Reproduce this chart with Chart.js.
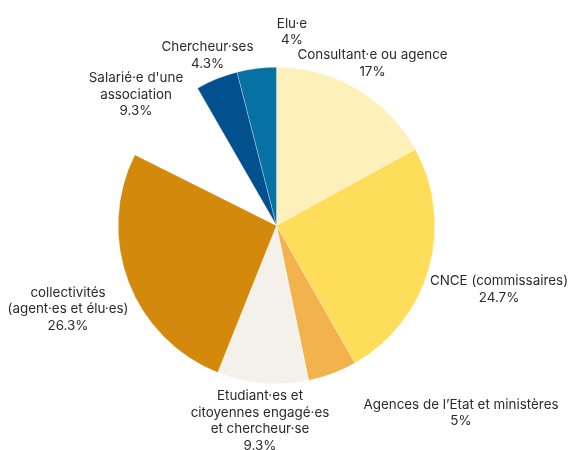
<!DOCTYPE html>
<html>
<head>
<meta charset="utf-8">
<script src="https://cdn.jsdelivr.net/npm/chart.js@4"></script>
<style>
html,body{margin:0;padding:0;background:#fff;}
#wrap{width:568px;height:450px;position:relative;}
</style>
</head>
<body>
<div id="wrap"><canvas id="c" width="568" height="450"></canvas></div>
<script>
const categories = [
  ["Consultant·e ou agence"],
  ["CNCE (commissaires)"],
  ["Agences de l\u2019Etat et ministères"],
  ["Etudiant·es et", "citoyennes engagé·es", "et chercheur·se"],
  ["collectivités", "(agent·es et élu·es)"],
  ["Salarié·e d'une", "association"],
  ["Chercheur·ses"],
  ["Elu·e"]
];
const values = [17, 24.7, 5, 9.3, 26.3, 9.3, 4.3, 4];
const percentLabels = ["17%", "24.7%", "5%", "9.3%", "26.3%", "9.3%", "4.3%", "4%"];

// styling (kept separate from data)
const colors = ["#FDF0BA", "#FEDD5B", "#F2B24C", "#F4F1EB", "#D3890C", "#FFFFFF", "#03508F", "#0771A3"];
// label block centre offsets from the pie centre (px)
const labelOffsets = [[96,-162],[222.5,64],[184.5,187.5],[-16.5,195.5],[-208.5,83.5],[-140.5,-131],[-69,-170],[15.5,-193.5]];

const labelPlugin = {
  id: 'outLabels',
  afterDatasetsDraw(chart) {
    const ctx = chart.ctx;
    const meta = chart.getDatasetMeta(0);
    const arc0 = meta.data[0];
    const cx = arc0.x, cy = arc0.y;
    const lh = 16.5;
    ctx.save();
    ctx.font = '13.4px Inter, "Noto Sans", sans-serif';
    ctx.fillStyle = '#2b2b2b';
    ctx.textAlign = 'center';
    ctx.textBaseline = 'middle';
    meta.data.forEach((arc, i) => {
      const lines = categories[i].concat([percentLabels[i]]);
      const bx = cx + labelOffsets[i][0];
      const by = cy + labelOffsets[i][1];
      const top = by - (lines.length - 1) * lh / 2;
      lines.forEach((t, k) => ctx.fillText(t, bx, top + k * lh));
    });
    ctx.restore();
  }
};

new Chart(document.getElementById('c'), {
  type: 'pie',
  data: {
    labels: categories.map(l => l.join(' ')),
    datasets: [{
      data: values,
      backgroundColor: colors,
      borderColor: '#ffffff',
      borderWidth: 0.3
    }]
  },
  options: {
    responsive: false,
    animation: false,
    layout: { padding: { top: 67, bottom: 66, left: 118, right: 133 } },
    plugins: { legend: { display: false }, tooltip: { enabled: false } }
  },
  plugins: [labelPlugin]
});
</script>
</body>
</html>
